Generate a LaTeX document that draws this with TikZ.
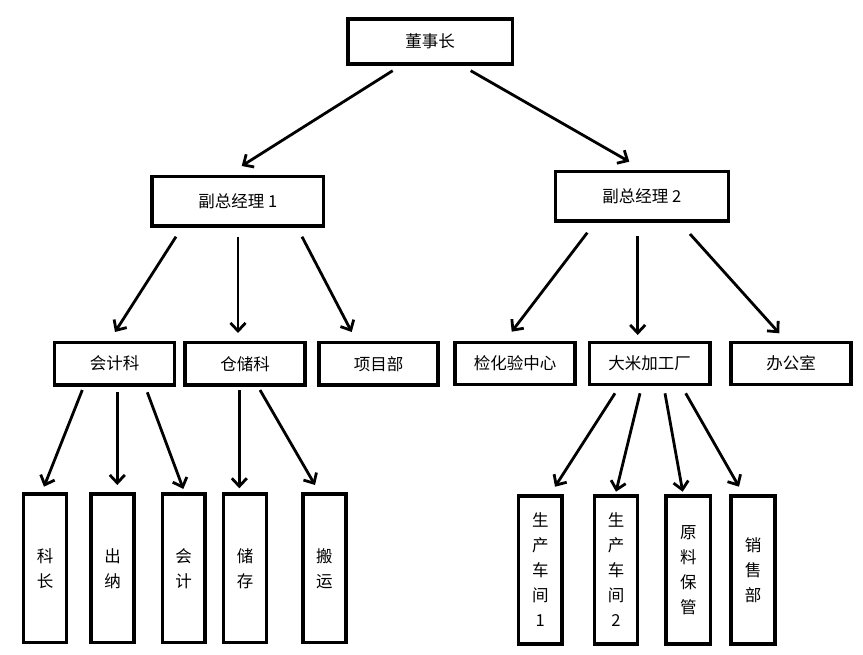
\documentclass[tikz,border=0pt]{standalone}
\usepackage{fontspec}
\newfontfamily\cjk{Noto Sans CJK SC}
\usetikzlibrary{arrows.meta}
\begin{document}
\begin{tikzpicture}[x=1pt,y=-1pt,
  box/.style={draw=black,line width=3.5pt,fill=white,inner sep=0pt,
    font=\cjk\fontsize{16.5}{25}\selectfont,align=center},
  arr/.style={line width=2.8pt,-{Straight Barb[length=8pt,width=15pt]}}]
\useasboundingbox (0,0) rectangle (863,655);
% top
\node[box,minimum width=164.5pt,minimum height=45pt] (top) at (430,41.5) {董事长};
\node[box,minimum width=171.5pt,minimum height=49.5pt] (vp1) at (237.8,201.5) {副总经理 1};
\node[box,minimum width=173pt,minimum height=49.5pt] (vp2) at (641.8,196.5) {副总经理 2};
% middle row
\node[box,minimum width=120pt,minimum height=42.5pt] (kj) at (114.5,363.7) {会计科};
\node[box,minimum width=120pt,minimum height=42.5pt] (cc) at (245,363.7) {仓储科};
\node[box,minimum width=119pt,minimum height=42.5pt] (xm) at (378.7,363.7) {项目部};
\node[box,minimum width=120pt,minimum height=42pt] (jh) at (515,363.5) {检化验中心};
\node[box,minimum width=120.5pt,minimum height=42pt] (dm) at (649.7,363.5) {大米加工厂};
\node[box,minimum width=120pt,minimum height=42pt] (bg) at (791.2,363.5) {办公室};
% bottom left
\node[box,minimum width=43pt,minimum height=148.5pt] (kz) at (45,568.3) {科\\长};
\node[box,minimum width=43pt,minimum height=148.5pt] (cn) at (112.7,568.3) {出\\纳};
\node[box,minimum width=42.5pt,minimum height=148.5pt] (hk) at (183.7,568.3) {会\\计};
\node[box,minimum width=43pt,minimum height=148.5pt] (ck) at (245,568.3) {储\\存};
\node[box,minimum width=43pt,minimum height=148.5pt] (by) at (324.3,568.3) {搬\\运};
% bottom right
\node[box,minimum width=43.8pt,minimum height=148pt] (s1) at (540.3,570) {生\\产\\车\\间\\1};
\node[box,minimum width=43pt,minimum height=148pt] (s2) at (616,570) {生\\产\\车\\间\\2};
\node[box,minimum width=44.5pt,minimum height=148pt] (yl) at (688.3,570) {原\\料\\保\\管};
\node[box,minimum width=43.8pt,minimum height=148pt] (xs) at (753,570) {销\\售\\部};
% arrow end points
\coordinate (a1s) at (392.7,70.7); \coordinate (a1e) at (241.7,166);
\coordinate (a2s) at (470.7,70.7); \coordinate (a2e) at (629.3,161.7);
\coordinate (b1s) at (176,236.7); \coordinate (b1e) at (115,332);
\coordinate (b2s) at (238,236.7); \coordinate (b2e) at (238,333);
\coordinate (b3s) at (302,236.7); \coordinate (b3e) at (351.7,332);
\coordinate (c1s) at (587.3,232.7); \coordinate (c1e) at (511.7,331.7);
\coordinate (c2s) at (637.7,236); \coordinate (c2e) at (637.7,335);
\coordinate (c3s) at (690,234); \coordinate (c3e) at (779.3,333.3);
\coordinate (d1s) at (82.3,390); \coordinate (d1e) at (44,486.7);
\coordinate (d2s) at (117.3,392.3); \coordinate (d2e) at (117.3,485);
\coordinate (d3s) at (147.3,392.3); \coordinate (d3e) at (183.3,489);
\coordinate (e1s) at (239.3,390); \coordinate (e1e) at (239.3,488.3);
\coordinate (e2s) at (260,390); \coordinate (e2e) at (315,485);
\coordinate (f1s) at (615,393.3); \coordinate (f1e) at (555,486.7);
\coordinate (f2s) at (640,393.3); \coordinate (f2e) at (616,491.7);
\coordinate (f3s) at (665,393.3); \coordinate (f3e) at (682.7,491.7);
\coordinate (f4s) at (685.7,393.3); \coordinate (f4e) at (739,486.7);
\foreach \a in {a1,a2,b1,b2,b3,c1,c2,c3,d1,d2,d3,e1,e2,f1,f2,f3,f4}
  \draw[arr] (\a s) -- (\a e);
\end{tikzpicture}
\end{document}
